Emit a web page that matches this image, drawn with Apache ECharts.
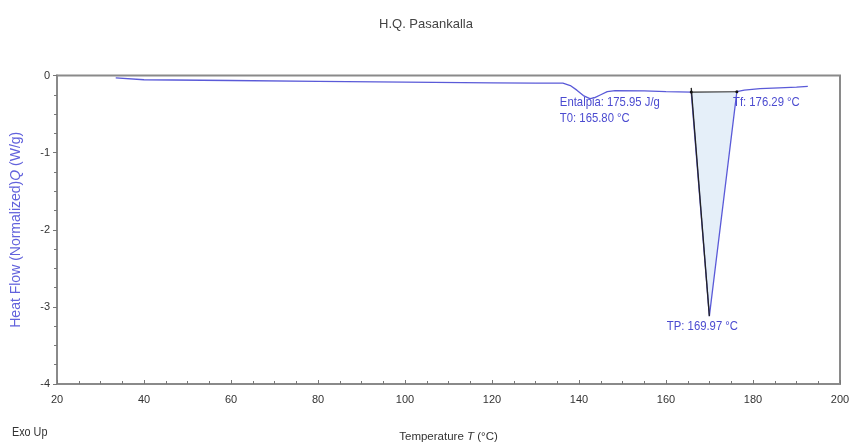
<!DOCTYPE html>
<html>
<head>
<meta charset="utf-8">
<script src="https://cdn.jsdelivr.net/npm/echarts@6/dist/echarts.min.js"></script>
<style>html,body{margin:0;padding:0;background:#fff;}#c{width:855px;height:448px;}</style>
</head>
<body>
<div id="c"></div>
<script>
// Main DSC curve
const temps = [33.5, 33.7, 40, 60, 80, 100, 120, 130, 136.3, 138, 139.5, 141, 142.5, 143.5, 145, 146.5, 148.3, 155, 160, 165.8, 169.97, 176.29, 178, 181.6, 186, 190, 192.6];
const heatFlow = [-0.03, -0.05, -0.055, -0.065, -0.075, -0.085, -0.095, -0.1, -0.1, -0.13, -0.19, -0.26, -0.3, -0.29, -0.25, -0.21, -0.195, -0.2, -0.21, -0.215, -3.12, -0.21, -0.19, -0.17, -0.16, -0.15, -0.14];
// Peak integration area (baseline + peak)
const fillX = [165.8, 169.97, 176.29];
const fillY = [-0.215, -3.12, -0.21];
// Construction lines
const tangentX = [165.8, 169.97];
const tangentY = [-0.16, -3.12];
const baseX = [165.8, 176.29];
const baseY = [-0.215, -0.21];
// Annotations
const annoText = ['Entalpia: 175.95 J/g', 'T0: 165.80 °C', 'Tf: 176.29 °C', 'TP: 169.97 °C'];
const annoX = [135.6, 135.6, 175.4, 160.2];
const annoY = [-0.35, -0.56, -0.35, -3.25];
// Axis ticks
const xTicks = [20, 40, 60, 80, 100, 120, 140, 160, 180, 200];
const yTicks = [0, -1, -2, -3, -4];

const blue = '#5a5ad8';
const font = '"Liberation Sans", Arial, sans-serif';

const chart = echarts.init(document.getElementById('c'), null, {renderer: 'canvas'});
chart.setOption({
  animation: false,
  backgroundColor: '#fff',
  title: {
    text: 'H.Q. Pasankalla',
    left: 421, top: 13, textAlign: 'center',
    textStyle: {fontFamily: font, fontSize: 13, fontWeight: 'normal', color: '#444'}
  },
  grid: {left: 57, right: 15, top: 75.5, bottom: 55, show: true, borderColor: '#8a8a8a', borderWidth: 2, backgroundColor: 'transparent'},
  xAxis: {
    type: 'value', min: xTicks[0], max: xTicks[xTicks.length - 1], interval: 20,
    name: 'Temperature {i|T} (°C)', nameLocation: 'middle', nameGap: 47,
    nameTextStyle: {fontFamily: font, fontSize: 11.5, color: '#333', rich: {i: {fontFamily: font, fontStyle: 'italic', fontSize: 11.5, color: '#333'}}},
    axisLine: {show: true, onZero: false, lineStyle: {color: '#8a8a8a', width: 2}},
    axisTick: {show: true, inside: true, length: 4, lineStyle: {color: '#777'}},
    minorTick: {show: true, splitNumber: 4, length: 3, lineStyle: {color: '#777'}},
    axisLabel: {fontFamily: font, fontSize: 11, color: '#333', margin: 10},
    splitLine: {show: false}
  },
  yAxis: {
    type: 'value', min: yTicks[yTicks.length - 1], max: yTicks[0], interval: 1,
    name: 'Heat Flow (Normalized){i|Q} (W/g)', nameLocation: 'middle', nameGap: 34, nameRotate: 90,
    nameTextStyle: {fontFamily: font, fontSize: 14, color: '#6262dc', rich: {i: {fontFamily: font, fontStyle: 'italic', fontSize: 14, color: '#6262dc'}}},
    axisLine: {show: true, onZero: false, lineStyle: {color: '#8a8a8a', width: 2}},
    axisTick: {show: true, inside: false, length: 4, lineStyle: {color: '#777'}},
    minorTick: {show: true, splitNumber: 4, length: 3, lineStyle: {color: '#777'}},
    axisLabel: {fontFamily: font, fontSize: 11, color: '#333', margin: 7},
    splitLine: {show: false}
  },
  series: [
    {
      type: 'custom', silent: true, z: 1,
      data: [[fillX[0], fillY[0]]],
      renderItem: function (params, api) {
        const pts = fillX.map((x, i) => api.coord([x, fillY[i]]));
        return {type: 'polygon', shape: {points: pts}, style: {fill: '#e5eff9', stroke: null}};
      }
    },
    {
      type: 'line', z: 3, showSymbol: false, smooth: false,
      data: temps.map((t, i) => [t, heatFlow[i]]),
      lineStyle: {color: blue, width: 1.3},
      itemStyle: {color: blue}
    },
    {
      type: 'line', z: 4, showSymbol: false,
      data: tangentX.map((t, i) => [t, tangentY[i]]),
      lineStyle: {color: '#222', width: 1.3}
    },
    {
      type: 'line', z: 4, symbol: 'circle', symbolSize: 3, showSymbol: true,
      data: baseX.map((t, i) => [t, baseY[i]]),
      lineStyle: {color: '#333', width: 1.1},
      itemStyle: {color: '#111'}
    }
  ]
});

// Annotation texts placed through the chart's own scales, condensed like the original font
const graphics = annoText.map((txt, i) => {
  const p = chart.convertToPixel({gridIndex: 0}, [annoX[i], annoY[i]]);
  return {
    type: 'text', x: p[0], y: p[1], scaleX: 0.87, z: 10,
    style: {text: txt, fontFamily: font, fontSize: 13, fill: '#4b4bd0', verticalAlign: 'middle', align: 'left'}
  };
});
graphics.push({
  type: 'text', x: 12, y: 433, scaleX: 0.9,
  style: {text: 'Exo Up', fontFamily: font, fontSize: 12, fill: '#333', verticalAlign: 'middle'}
});
chart.setOption({graphic: graphics});
</script>
</body>
</html>
